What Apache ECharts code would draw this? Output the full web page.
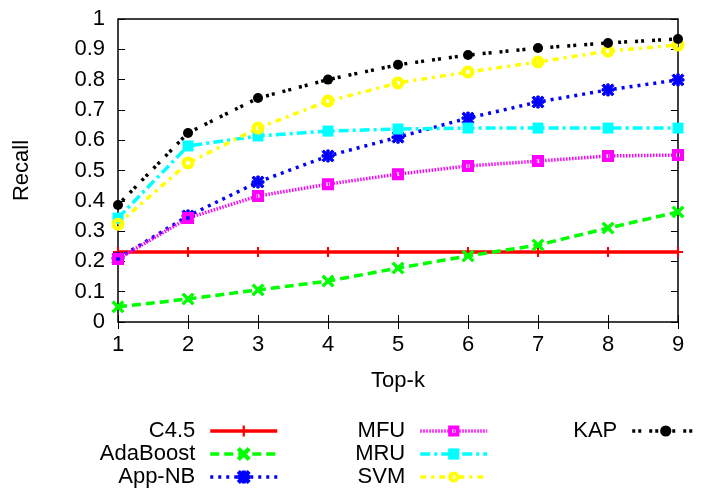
<!DOCTYPE html>
<html>
<head>
    <meta charset="utf-8" />
    <script src="https://cdn.jsdelivr.net/npm/echarts@6/dist/echarts.min.js"></script>
</head>
<body style="margin:0">
<div id="main" style="width: 701px;height:488px;"></div>
<script>
    var chartDom = document.getElementById('main');
    var myChart = echarts.init(chartDom);
    var option;

    // top-k values on the x axis
    const topK = [1, 2, 3, 4, 5, 6, 7, 8, 9];

    const c45 = [0.231, 0.231, 0.231, 0.231, 0.231, 0.231, 0.231, 0.231, 0.231];
    const adaBoost = [0.05, 0.076, 0.106, 0.135, 0.178, 0.218, 0.254, 0.31, 0.363];
    const appNB = [0.21, 0.35, 0.462, 0.548, 0.61, 0.673, 0.726, 0.766, 0.799];
    const mfu = [0.208, 0.343, 0.416, 0.455, 0.488, 0.515, 0.531, 0.548, 0.551];
    const mru = [0.343, 0.581, 0.614, 0.63, 0.637, 0.64, 0.64, 0.64, 0.64];
    const svm = [0.323, 0.525, 0.64, 0.729, 0.789, 0.825, 0.858, 0.894, 0.914];
    const kap = [0.386, 0.624, 0.739, 0.80, 0.849, 0.881, 0.904, 0.921, 0.934];

    const plusPath = 'path://M4,0h2v10h-2z M0,4h10v2h-10z';
    const crossPath = 'path://M0,1.5L1.5,0L10,8.5L8.5,10z M8.5,0L10,1.5L1.5,10L0,8.5z';
    const starPath = 'path://M4,0h2v10h-2z M0,4h10v2h-10z M0,1.5L1.5,0L10,8.5L8.5,10z M8.5,0L10,1.5L1.5,10L0,8.5z';
    // thick open square / circle (gnuplot style): outer shape with a small hole
    const boxPath = 'path://M0,0h10v10h-10z M3.5,3.5v3h3v-3z';
    const ringPath = 'path://M0,5a5,5 0 1,0 10,0a5,5 0 1,0 -10,0z M3.3,5a1.7,1.7 0 1,1 3.4,0a1.7,1.7 0 1,1 -3.4,0z';

    function pairs(vals) {
        return vals.map(function(v, i) { return [topK[i], v]; });
    }

    function mk(name, vals, color, dash, width, symbol, size, extra) {
        var s = {
            name: name,
            type: 'line',
            data: pairs(vals),
            showAllSymbol: true,
            symbol: symbol,
            symbolSize: size,
            lineStyle: { color: color, width: width, type: dash },
            itemStyle: { color: color },
            emphasis: { disabled: true },
            animation: false
        };
        if (extra) s.itemStyle = Object.assign(s.itemStyle, extra);
        return s;
    }

    var series = [
        mk('C4.5', c45, '#ff0000', 'solid', 3.5, plusPath, 10),
        mk('AdaBoost', adaBoost, '#00ff00', [9, 5], 3.5, crossPath, 12, { borderWidth: 1, borderColor: '#00ff00' }),
        mk('App-NB', appNB, '#0000ff', [3, 5], 3.5, starPath, 12, { borderWidth: 1, borderColor: '#0000ff' }),
        mk('MFU', mfu, '#ff00ff', [1.5, 1.5], 3.5, boxPath, 12),
        mk('MRU', mru, '#00ffff', [10, 4, 3, 4], 3.5, 'rect', 11),
        mk('SVM', svm, '#ffff00', [6, 5, 3, 5], 3.5, ringPath, 13),
        mk('KAP', kap, '#000000', [3, 3, 3, 8], 3.5, 'circle', 10)
    ];

    var font = 'Liberation Sans, Arial, sans-serif';

    // one legend per entry, text on the left of the sample
    var legendPos = [
        ['C4.5', 422, 420], ['AdaBoost', 422, 443], ['App-NB', 422, 466],
        ['MFU', 212, 420], ['MRU', 212, 443], ['SVM', 212, 466],
        ['KAP', 0, 420]
    ];
    var legends = legendPos.map(function(p) {
        return {
            data: [p[0]],
            orient: 'horizontal',
            align: 'right',
            right: p[1],
            top: p[2],
            padding: 0,
            itemWidth: 67,
            itemHeight: 14,
            selectedMode: false,
            lineStyle: { width: 3.5 },
            textStyle: { fontSize: 22, color: '#000', fontFamily: font, padding: [0, 10, 0, 0] }
        };
    });

    var tick = { inside: true, length: 7, lineStyle: { color: '#000', width: 1 } };

    option = {
        backgroundColor: '#fff',
        grid: {
            left: 118, right: 23, top: 19, bottom: 166,
            show: true, borderColor: '#000', borderWidth: 1.5
        },
        legend: legends,
        xAxis: [{
            type: 'value', min: 1, max: 9, interval: 1,
            name: 'Top-k', nameLocation: 'middle', nameGap: 48,
            nameTextStyle: { fontSize: 22, color: '#000', fontFamily: font },
            axisLine: { show: false },
            axisTick: tick,
            axisLabel: { fontSize: 22, color: '#000', fontFamily: font, margin: 12 },
            splitLine: { show: false }
        }, {
            type: 'value', min: 1, max: 9, interval: 1, position: 'top',
            axisLine: { show: false },
            axisTick: tick,
            axisLabel: { show: false },
            splitLine: { show: false }
        }],
        yAxis: [{
            type: 'value', min: 0, max: 1, interval: 0.1,
            name: 'Recall', nameLocation: 'middle', nameGap: 85,
            nameTextStyle: { fontSize: 22, color: '#000', fontFamily: font },
            axisLine: { show: false },
            axisTick: tick,
            axisLabel: {
                fontSize: 22, color: '#000', fontFamily: font, margin: 13,
                formatter: function(v) { return String(Math.round(v * 10) / 10); }
            },
            splitLine: { show: false }
        }, {
            type: 'value', min: 0, max: 1, interval: 0.1, position: 'right',
            axisLine: { show: false },
            axisTick: tick,
            axisLabel: { show: false },
            splitLine: { show: false }
        }],
        series: series
    };

    option && myChart.setOption(option);
</script>
</body>
</html>
